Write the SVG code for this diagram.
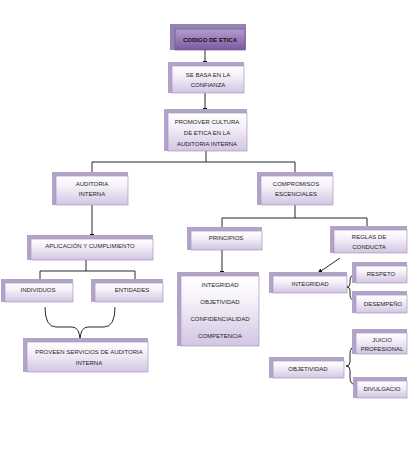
<svg xmlns="http://www.w3.org/2000/svg" width="416" height="450" viewBox="0 0 416 450">
<defs>
<linearGradient id="gf" x1="0" y1="0" x2="0" y2="1">
<stop offset="0" stop-color="#ffffff"/>
<stop offset="0.35" stop-color="#f5f1f9"/>
<stop offset="1" stop-color="#d2c5e2"/>
</linearGradient>
<linearGradient id="gd" x1="0" y1="0" x2="0" y2="1">
<stop offset="0" stop-color="#b49dd1"/>
<stop offset="1" stop-color="#7a5a9e"/>
</linearGradient>
<marker id="ah" viewBox="0 0 10 10" refX="9" refY="5" markerWidth="5.5" markerHeight="5.5" orient="auto">
<path d="M0,0 L10,5 L0,10 z" fill="#111"/>
</marker>
</defs>
<style>
.bk{fill:#b2a4c8;}
.fr{fill:url(#gf);stroke:#a996c2;stroke-width:0.7;}
.frd{fill:url(#gd);stroke:#6f5294;stroke-width:0.7;}
.bkd{fill:#9584b0;}
text{font-family:"Liberation Sans",Arial,sans-serif;font-size:6px;fill:#1c1c1c;text-anchor:middle;}
.b{font-weight:bold;fill:#111;}
.c{fill:none;stroke:#111;stroke-width:0.9;}
</style>
<rect width="416" height="450" fill="#ffffff"/>
<g id="connectors">
<line class="c" x1="205" y1="50" x2="205" y2="65" marker-end="url(#ah)"/>
<line class="c" x1="205" y1="93" x2="205" y2="112" marker-end="url(#ah)"/>
<line class="c" x1="206" y1="151" x2="206" y2="162"/>
<line class="c" x1="92" y1="162" x2="295" y2="162"/>
<line class="c" x1="92" y1="162" x2="92" y2="175"/>
<line class="c" x1="295" y1="162" x2="295" y2="175"/>
<line class="c" x1="92" y1="205" x2="92" y2="238" marker-end="url(#ah)"/>
<line class="c" x1="86" y1="260" x2="86" y2="271"/>
<line class="c" x1="40" y1="271" x2="135" y2="271"/>
<line class="c" x1="40" y1="271" x2="40" y2="282"/>
<line class="c" x1="135" y1="271" x2="135" y2="282"/>
<path class="c" d="M45,307 Q45,327 56,327 L72,327 Q80,327 80,341 Q80,327 88,327 L104,327 Q115,327 115,307"/>
<line class="c" x1="295" y1="205" x2="295" y2="218"/>
<line class="c" x1="222" y1="218" x2="367" y2="218"/>
<line class="c" x1="222" y1="218" x2="222" y2="230"/>
<line class="c" x1="367" y1="218" x2="367" y2="229"/>
<line class="c" x1="222" y1="250" x2="222" y2="275" marker-end="url(#ah)"/>
<line class="c" x1="340" y1="258" x2="318" y2="273" marker-end="url(#ah)"/>
<path class="c" d="M357,274 Q350,274 350,281 L350,284 Q350,287 346,287 Q350,287 350,290 L350,295 Q350,301 357,301"/>
<path class="c" d="M357,346 Q350,346 350,354 L350,362 Q350,366 346,366 Q350,366 350,370 L350,378 Q350,385 357,385"/>
</g>
<g id="codigo">
<rect class="bkd" x="170" y="24" width="76" height="26"/>
<rect class="frd" x="175" y="29" width="70" height="21"/>
<text class="b" x="210" y="42">CODIGO DE ETICA</text>
</g>
<g id="sebasa">
<rect class="bk" x="168" y="62" width="76" height="31"/>
<rect class="fr" x="172" y="66" width="72" height="27"/>
<text x="208" y="77">SE BASA EN LA</text>
<text x="208" y="87">CONFIANZA</text>
</g>
<g id="promover">
<rect class="bk" x="164" y="109" width="83" height="42"/>
<rect class="fr" x="168" y="113" width="79" height="38"/>
<text x="207" y="124">PROMOVER CULTURA</text>
<text x="207" y="135">DE ETICA EN LA</text>
<text x="207" y="146">AUDITORIA INTERNA</text>
</g>
<g id="auditoria">
<rect class="bk" x="52" y="172" width="76" height="33"/>
<rect class="fr" x="56" y="176" width="72" height="29"/>
<text x="92" y="186">AUDITORIA</text>
<text x="92" y="196">INTERNA</text>
</g>
<g id="aplicacion">
<rect class="bk" x="27" y="235" width="126" height="25"/>
<rect class="fr" x="31" y="239" width="122" height="21"/>
<text x="90" y="248">APLICACIÓN Y CUMPLIMIENTO</text>
</g>
<g id="individuos">
<rect class="bk" x="1" y="279" width="72" height="23"/>
<rect class="fr" x="5" y="283" width="68" height="19"/>
<text x="38" y="292">INDIVIDUOS</text>
</g>
<g id="entidades">
<rect class="bk" x="91" y="279" width="72" height="23"/>
<rect class="fr" x="95" y="283" width="68" height="19"/>
<text x="132" y="292">ENTIDADES</text>
</g>
<g id="proveen">
<rect class="bk" x="23" y="338" width="125" height="34"/>
<rect class="fr" x="27" y="342" width="121" height="30"/>
<text x="89" y="354">PROVEEN SERVICIOS DE AUDITORIA</text>
<text x="89" y="365">INTERNA</text>
</g>
<g id="compromisos">
<rect class="bk" x="257" y="172" width="76" height="33"/>
<rect class="fr" x="261" y="176" width="72" height="29"/>
<text x="296" y="186">COMPROMISOS</text>
<text x="296" y="196">ESCENCIALES</text>
</g>
<g id="principios">
<rect class="bk" x="187" y="227" width="75" height="23"/>
<rect class="fr" x="191" y="231" width="71" height="19"/>
<text x="226" y="240">PRINCIPIOS</text>
</g>
<g id="reglas">
<rect class="bk" x="330" y="226" width="77" height="27"/>
<rect class="fr" x="334" y="230" width="73" height="23"/>
<text x="369" y="239">REGLAS DE</text>
<text x="369" y="249">CONDUCTA</text>
</g>
<g id="principios-lista">
<rect class="bk" x="177" y="272" width="82" height="74"/>
<rect class="fr" x="181" y="276" width="78" height="70"/>
<text x="220" y="287">INTEGRIDAD</text>
<text x="220" y="304">OBJETIVIDAD</text>
<text x="220" y="321">CONFIDENCIALIDAD</text>
<text x="220" y="338">COMPETENCIA</text>
</g>
<g id="integridad">
<rect class="bk" x="269" y="272" width="78" height="21"/>
<rect class="fr" x="273" y="276" width="74" height="17"/>
<text x="310" y="286">INTEGRIDAD</text>
</g>
<g id="respeto">
<rect class="bk" x="352" y="262" width="55" height="21"/>
<rect class="fr" x="356" y="266" width="51" height="17"/>
<text x="381" y="276">RESPETO</text>
</g>
<g id="desempeno">
<rect class="bk" x="352" y="291" width="55" height="22"/>
<rect class="fr" x="356" y="295" width="51" height="18"/>
<text x="383" y="306">DESEMPEÑO</text>
</g>
<g id="objetividad">
<rect class="bk" x="269" y="357" width="75" height="21"/>
<rect class="fr" x="273" y="361" width="71" height="17"/>
<text x="308" y="371">OBJETIVIDAD</text>
</g>
<g id="juicio">
<rect class="bk" x="352" y="329" width="55" height="25"/>
<rect class="fr" x="356" y="333" width="51" height="21"/>
<text x="382" y="342">JUICIO</text>
<text x="382" y="351">PROFESIONAL</text>
</g>
<g id="divulgacio">
<rect class="bk" x="353" y="377" width="54" height="21"/>
<rect class="fr" x="357" y="381" width="50" height="17"/>
<text x="382" y="391">DIVULGACIO</text>
</g>
</svg>
